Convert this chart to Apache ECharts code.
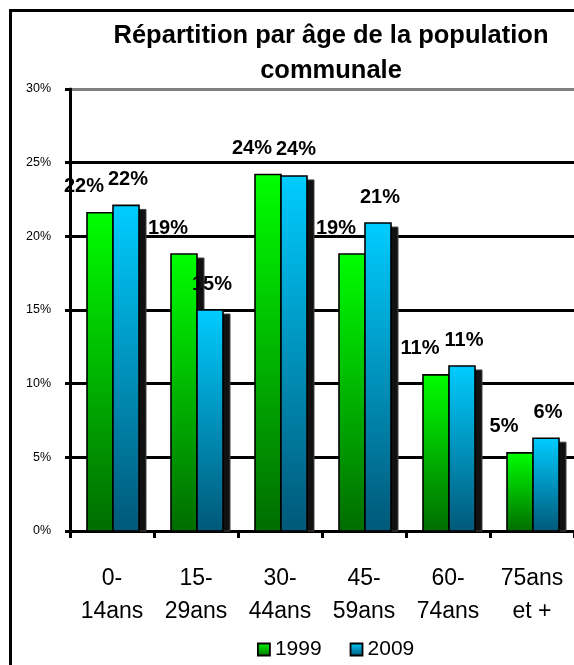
<!DOCTYPE html>
<html>
<head>
<meta charset="utf-8">
<script src="https://cdn.jsdelivr.net/npm/echarts@6/dist/echarts.min.js"></script>
<style>
html,body{margin:0;padding:0;background:#fff;}
#chart{width:574px;height:665px;}
</style>
</head>
<body>
<div id="chart"></div>
<script>
const titleText = "Répartition par âge de la population\ncommunale";
const categories = ["0-\n14ans", "15-\n29ans", "30-\n44ans", "45-\n59ans", "60-\n74ans", "75ans\net +"];
const seriesNames = ["1999", "2009"];
const values1999 = [21.6, 18.8, 24.2, 18.8, 10.6, 5.3];
const values2009 = [22.1, 15.0, 24.1, 20.9, 11.2, 6.3];
const yTicks = [0, 5, 10, 15, 20, 25, 30];

const FONT = "Liberation Sans, Arial, sans-serif";
const chart = echarts.init(document.getElementById('chart'), null, {renderer: 'canvas'});

function grad(top, bottom) {
  return new echarts.graphic.LinearGradient(0, 0, 0, 1, [
    {offset: 0, color: top}, {offset: 1, color: bottom}
  ]);
}
const GREEN = ['#00ff00', '#006c00'];
const BLUE = ['#00ccff', '#005878'];
const BAR_W = 26;

function makeRender(side, colors, labelDx, labelDy) {
  return function (params, api) {
    const xi = api.value(0);
    const v = api.value(1);
    const base = api.coord([xi, 0]);
    const top = api.coord([xi, v]);
    const left = (side === 0 ? base[0] - BAR_W : base[0]) + 1;
    const h = base[1] - top[1];
    return {
      type: 'group',
      children: [
        {
          type: 'rect',
          shape: {x: left + 7, y: top[1] + 4, width: BAR_W, height: h - 4},
          style: {fill: '#111', stroke: '#444', lineWidth: 1}
        },
        {
          type: 'rect',
          shape: {x: left, y: top[1], width: BAR_W, height: h},
          style: {fill: grad(colors[0], colors[1]), stroke: '#000', lineWidth: 1.6}
        },
        {
          type: 'text',
          x: left + BAR_W / 2 + labelDx,
          y: top[1] + labelDy,
          style: {
            text: Math.round(v) + '%',
            align: 'center',
            verticalAlign: 'middle',
            font: 'bold 20px ' + FONT,
            fill: '#000'
          },
          z2: 10
        }
      ]
    };
  };
}

const option = {
  animation: false,
  backgroundColor: '#fff',
  title: {
    text: titleText,
    left: 326,
    textAlign: 'center',
    top: 13,
    textStyle: {fontFamily: FONT, fontWeight: 'bold', fontSize: 25.5, color: '#000', lineHeight: 35}
  },
  graphic: [{
    type: 'rect',
    shape: {x: 10.5, y: 10.5, width: 600, height: 700},
    style: {fill: 'none', stroke: '#000', lineWidth: 3},
    z: 100
  }],
  legend: {
    data: [
      {name: seriesNames[0], itemStyle: {color: grad(GREEN[0], GREEN[1]), borderColor: '#000', borderWidth: 1.8}},
      {name: seriesNames[1], itemStyle: {color: grad(BLUE[0], BLUE[1]), borderColor: '#000', borderWidth: 1.8}}
    ],
    left: 252,
    top: 634,
    icon: 'rect',
    itemWidth: 12,
    itemHeight: 12,
    itemGap: 28,
    textStyle: {fontFamily: FONT, fontSize: 21, color: '#000'}
  },
  grid: {left: 70, right: -4, top: 89, bottom: 134, containLabel: false},
  xAxis: {
    type: 'category',
    data: categories,
    axisLine: {lineStyle: {color: '#000', width: 3}},
    axisTick: {show: true, length: 7, lineStyle: {color: '#000', width: 3}},
    axisLabel: {interval: 0, margin: 31, fontFamily: FONT, fontSize: 23, lineHeight: 33, color: '#000'}
  },
  yAxis: {
    type: 'value',
    min: yTicks[0],
    max: yTicks[yTicks.length - 1],
    interval: 5,
    axisLine: {show: true, lineStyle: {color: '#000', width: 3}},
    axisTick: {show: true, length: 5, lineStyle: {color: '#000', width: 3}},
    axisLabel: {formatter: '{value}%', margin: 19, fontFamily: FONT, fontSize: 12.5, color: '#000'},
    splitLine: {show: true, lineStyle: {color: ['#000','#000','#000','#000','#000','#000','#808080'], width: 3}}
  },
  series: [
    {
      name: seriesNames[0],
      type: 'custom',
      renderItem: makeRender(0, GREEN, -16, -26),
      itemStyle: {color: '#00cc00'},
      encode: {x: 0, y: 1},
      data: values1999.map((v, i) => [i, v]),
      z: 2
    },
    {
      name: seriesNames[1],
      type: 'custom',
      renderItem: makeRender(1, BLUE, 2, -26),
      itemStyle: {color: '#00aadd'},
      encode: {x: 0, y: 1},
      data: values2009.map((v, i) => [i, v]),
      z: 3
    }
  ]
};
chart.setOption(option);
</script>
</body>
</html>
